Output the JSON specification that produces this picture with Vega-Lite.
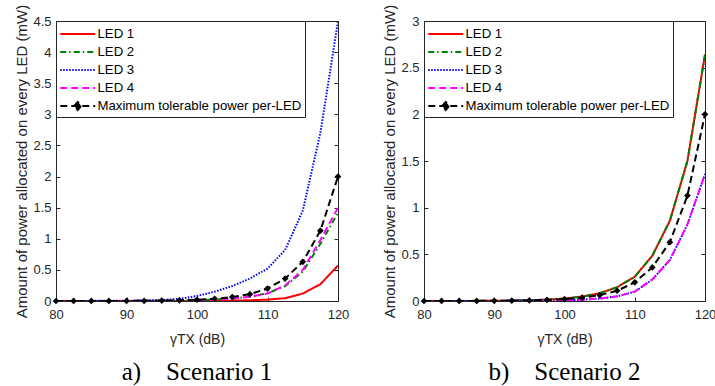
{
"$schema": "https://vega.github.io/schema/vega-lite/v6.json",
"background": "white",
"padding": {"left": 14, "top": 3, "right": 8, "bottom": 4},
"config": {
  "view": {"stroke": "#262626", "strokeWidth": 1},
  "scale": {"continuousPadding": 0},
  "axis": {"labelFont": "Liberation Sans", "labelFontSize": 13, "labelColor": "#262626", "titleFont": "Liberation Sans", "titleFontSize": 14, "titleFontWeight": "normal", "titleColor": "#262626", "domainColor": "#262626", "tickColor": "#262626", "grid": false, "tickSize": -4, "labelPadding": 9, "labelFlush": false, "labelOverlap": false, "domainWidth": 1, "tickWidth": 1},
  "legend": {"orient": "top-left", "offset": 0, "symbolType": "M-1,0H3", "symbolSize": 306, "symbolStrokeWidth": 2, "labelOffset": 18.5, "padding": 3, "rowPadding": 1.0, "strokeColor": "#262626", "fillColor": "white", "labelFont": "Liberation Sans", "labelFontSize": 13.2, "labelColor": "black", "labelLimit": 400, "cornerRadius": 0},
  "title": {"font": "Liberation Serif", "fontSize": 25, "fontWeight": "normal", "color": "black"}
},
"datasets": {
"s1": [
{"x":80,"led":"LED 1","p":0},{"x":80,"led":"LED 2","p":0.0001},{"x":80,"led":"LED 3","p":0.001},{"x":80,"led":"LED 4","p":0.0001},{"x":80,"led":"Maximum tolerable power per-LED","p":0.0002},
{"x":82.5,"led":"LED 1","p":0},{"x":82.5,"led":"LED 2","p":0.0002},{"x":82.5,"led":"LED 3","p":0.0015},{"x":82.5,"led":"LED 4","p":0.0002},{"x":82.5,"led":"Maximum tolerable power per-LED","p":0.00036},
{"x":85,"led":"LED 1","p":0},{"x":85,"led":"LED 2","p":0.0004},{"x":85,"led":"LED 3","p":0.002},{"x":85,"led":"LED 4","p":0.0004},{"x":85,"led":"Maximum tolerable power per-LED","p":0.00063},
{"x":87.5,"led":"LED 1","p":0},{"x":87.5,"led":"LED 2","p":0.0008},{"x":87.5,"led":"LED 3","p":0.003},{"x":87.5,"led":"LED 4","p":0.0008},{"x":87.5,"led":"Maximum tolerable power per-LED","p":0.0011},
{"x":90,"led":"LED 1","p":0},{"x":90,"led":"LED 2","p":0.0014},{"x":90,"led":"LED 3","p":0.004},{"x":90,"led":"LED 4","p":0.0013},{"x":90,"led":"Maximum tolerable power per-LED","p":0.002},
{"x":92.5,"led":"LED 1","p":0.0005},{"x":92.5,"led":"LED 2","p":0.0025},{"x":92.5,"led":"LED 3","p":0.007},{"x":92.5,"led":"LED 4","p":0.0024},{"x":92.5,"led":"Maximum tolerable power per-LED","p":0.0036},
{"x":95,"led":"LED 1","p":0.001},{"x":95,"led":"LED 2","p":0.0045},{"x":95,"led":"LED 3","p":0.015},{"x":95,"led":"LED 4","p":0.0042},{"x":95,"led":"Maximum tolerable power per-LED","p":0.0063},
{"x":97.5,"led":"LED 1","p":0.0015},{"x":97.5,"led":"LED 2","p":0.008},{"x":97.5,"led":"LED 3","p":0.035},{"x":97.5,"led":"LED 4","p":0.0075},{"x":97.5,"led":"Maximum tolerable power per-LED","p":0.011},
{"x":100,"led":"LED 1","p":0.002},{"x":100,"led":"LED 2","p":0.014},{"x":100,"led":"LED 3","p":0.08},{"x":100,"led":"LED 4","p":0.013},{"x":100,"led":"Maximum tolerable power per-LED","p":0.02},
{"x":102.5,"led":"LED 1","p":0.003},{"x":102.5,"led":"LED 2","p":0.024},{"x":102.5,"led":"LED 3","p":0.15},{"x":102.5,"led":"LED 4","p":0.023},{"x":102.5,"led":"Maximum tolerable power per-LED","p":0.036},
{"x":105,"led":"LED 1","p":0.006},{"x":105,"led":"LED 2","p":0.04},{"x":105,"led":"LED 3","p":0.24},{"x":105,"led":"LED 4","p":0.04},{"x":105,"led":"Maximum tolerable power per-LED","p":0.063},
{"x":107.5,"led":"LED 1","p":0.012},{"x":107.5,"led":"LED 2","p":0.07},{"x":107.5,"led":"LED 3","p":0.36},{"x":107.5,"led":"LED 4","p":0.068},{"x":107.5,"led":"Maximum tolerable power per-LED","p":0.11},
{"x":110,"led":"LED 1","p":0.022},{"x":110,"led":"LED 2","p":0.125},{"x":110,"led":"LED 3","p":0.52},{"x":110,"led":"LED 4","p":0.12},{"x":110,"led":"Maximum tolerable power per-LED","p":0.2},
{"x":112.5,"led":"LED 1","p":0.045},{"x":112.5,"led":"LED 2","p":0.24},{"x":112.5,"led":"LED 3","p":0.82},{"x":112.5,"led":"LED 4","p":0.25},{"x":112.5,"led":"Maximum tolerable power per-LED","p":0.36},
{"x":115,"led":"LED 1","p":0.12},{"x":115,"led":"LED 2","p":0.47},{"x":115,"led":"LED 3","p":1.45},{"x":115,"led":"LED 4","p":0.5},{"x":115,"led":"Maximum tolerable power per-LED","p":0.63},
{"x":117.5,"led":"LED 1","p":0.27},{"x":117.5,"led":"LED 2","p":0.92},{"x":117.5,"led":"LED 3","p":2.7},{"x":117.5,"led":"LED 4","p":0.98},{"x":117.5,"led":"Maximum tolerable power per-LED","p":1.13},
{"x":120,"led":"LED 1","p":0.57},{"x":120,"led":"LED 2","p":1.42},{"x":120,"led":"LED 3","p":4.5},{"x":120,"led":"LED 4","p":1.5},{"x":120,"led":"Maximum tolerable power per-LED","p":2.0}
],
"s2": [
{"x":80,"led":"LED 1","p":0.00026},{"x":80,"led":"LED 2","p":0.00026},{"x":80,"led":"LED 3","p":0.0001},{"x":80,"led":"LED 4","p":0.0001},{"x":80,"led":"Maximum tolerable power per-LED","p":0.0002},
{"x":82.5,"led":"LED 1","p":0.00047},{"x":82.5,"led":"LED 2","p":0.00047},{"x":82.5,"led":"LED 3","p":0.0002},{"x":82.5,"led":"LED 4","p":0.0002},{"x":82.5,"led":"Maximum tolerable power per-LED","p":0.00036},
{"x":85,"led":"LED 1","p":0.00083},{"x":85,"led":"LED 2","p":0.00083},{"x":85,"led":"LED 3","p":0.0003},{"x":85,"led":"LED 4","p":0.0003},{"x":85,"led":"Maximum tolerable power per-LED","p":0.00063},
{"x":87.5,"led":"LED 1","p":0.0015},{"x":87.5,"led":"LED 2","p":0.0015},{"x":87.5,"led":"LED 3","p":0.0005},{"x":87.5,"led":"LED 4","p":0.0005},{"x":87.5,"led":"Maximum tolerable power per-LED","p":0.0011},
{"x":90,"led":"LED 1","p":0.0026},{"x":90,"led":"LED 2","p":0.0026},{"x":90,"led":"LED 3","p":0.0009},{"x":90,"led":"LED 4","p":0.0009},{"x":90,"led":"Maximum tolerable power per-LED","p":0.002},
{"x":92.5,"led":"LED 1","p":0.0047},{"x":92.5,"led":"LED 2","p":0.0047},{"x":92.5,"led":"LED 3","p":0.0016},{"x":92.5,"led":"LED 4","p":0.0016},{"x":92.5,"led":"Maximum tolerable power per-LED","p":0.0036},
{"x":95,"led":"LED 1","p":0.0083},{"x":95,"led":"LED 2","p":0.0083},{"x":95,"led":"LED 3","p":0.003},{"x":95,"led":"LED 4","p":0.003},{"x":95,"led":"Maximum tolerable power per-LED","p":0.0063},
{"x":97.5,"led":"LED 1","p":0.015},{"x":97.5,"led":"LED 2","p":0.015},{"x":97.5,"led":"LED 3","p":0.005},{"x":97.5,"led":"LED 4","p":0.005},{"x":97.5,"led":"Maximum tolerable power per-LED","p":0.011},
{"x":100,"led":"LED 1","p":0.026},{"x":100,"led":"LED 2","p":0.026},{"x":100,"led":"LED 3","p":0.008},{"x":100,"led":"LED 4","p":0.008},{"x":100,"led":"Maximum tolerable power per-LED","p":0.02},
{"x":102.5,"led":"LED 1","p":0.047},{"x":102.5,"led":"LED 2","p":0.047},{"x":102.5,"led":"LED 3","p":0.014},{"x":102.5,"led":"LED 4","p":0.014},{"x":102.5,"led":"Maximum tolerable power per-LED","p":0.036},
{"x":105,"led":"LED 1","p":0.083},{"x":105,"led":"LED 2","p":0.083},{"x":105,"led":"LED 3","p":0.026},{"x":105,"led":"LED 4","p":0.026},{"x":105,"led":"Maximum tolerable power per-LED","p":0.063},
{"x":107.5,"led":"LED 1","p":0.148},{"x":107.5,"led":"LED 2","p":0.148},{"x":107.5,"led":"LED 3","p":0.05},{"x":107.5,"led":"LED 4","p":0.05},{"x":107.5,"led":"Maximum tolerable power per-LED","p":0.11},
{"x":110,"led":"LED 1","p":0.26},{"x":110,"led":"LED 2","p":0.26},{"x":110,"led":"LED 3","p":0.1},{"x":110,"led":"LED 4","p":0.1},{"x":110,"led":"Maximum tolerable power per-LED","p":0.2},
{"x":112.5,"led":"LED 1","p":0.485},{"x":112.5,"led":"LED 2","p":0.485},{"x":112.5,"led":"LED 3","p":0.23},{"x":112.5,"led":"LED 4","p":0.23},{"x":112.5,"led":"Maximum tolerable power per-LED","p":0.36},
{"x":115,"led":"LED 1","p":0.86},{"x":115,"led":"LED 2","p":0.86},{"x":115,"led":"LED 3","p":0.44},{"x":115,"led":"LED 4","p":0.44},{"x":115,"led":"Maximum tolerable power per-LED","p":0.63},
{"x":117.5,"led":"LED 1","p":1.5},{"x":117.5,"led":"LED 2","p":1.5},{"x":117.5,"led":"LED 3","p":0.82},{"x":117.5,"led":"LED 4","p":0.82},{"x":117.5,"led":"Maximum tolerable power per-LED","p":1.13},
{"x":120,"led":"LED 1","p":2.64},{"x":120,"led":"LED 2","p":2.64},{"x":120,"led":"LED 3","p":1.36},{"x":120,"led":"LED 4","p":1.36},{"x":120,"led":"Maximum tolerable power per-LED","p":2.0}
]
},
"hconcat": [
{
  "width": 282, "height": 280,
  "data": {"name": "s1"},
  "title": {"text": "a)\u00a0\u00a0\u00a0\u00a0Scenario 1", "orient": "bottom", "anchor": "middle", "offset": 14},
  "layer": [
    {"mark": {"type": "line", "strokeWidth": 2, "clip": true},
     "encoding": {
       "x": {"field": "x", "type": "quantitative", "scale": {"domain": [80, 120], "nice": false, "zero": false, "padding": 0}, "axis": {"values": [80, 90, 100, 110, 120], "format": "d", "title": "γTX (dB)", "titlePadding": 11, "labelPadding": 11}},
       "y": {"field": "p", "type": "quantitative", "scale": {"domain": [0, 4.5], "nice": false, "padding": 0}, "axis": {"values": [0, 0.5, 1, 1.5, 2, 2.5, 3, 3.5, 4, 4.5], "format": "~g", "title": "Amount of power allocated on every LED (mW)", "titlePadding": 3, "titleFontSize": 15}},
       "color": {"field": "led", "type": "nominal", "scale": {"domain": ["LED 1", "LED 2", "LED 3", "LED 4", "Maximum tolerable power per-LED"], "range": ["#FF0000", "#008000", "#0000FF", "#FF00FF", "#000000"]},
         "legend": {"title": null, "encode": {"symbols": {"update": {"shape": {"signal": "datum.value === 'Maximum tolerable power per-LED' ? 'M-1,0H3M0.6,0L1,-0.45L1.4,0L1,0.45Z' : 'M-1,0H3'"}, "fill": {"signal": "datum.value === 'Maximum tolerable power per-LED' ? 'black' : 'transparent'"}}}}}},
       "strokeDash": {"field": "led", "type": "nominal", "scale": {"domain": ["LED 1", "LED 2", "LED 3", "LED 4", "Maximum tolerable power per-LED"], "range": [[1, 0], [6, 3, 1.5, 3], [1.5, 1.5], [7, 4], [7, 4]]}, "legend": {"title": null}}
     }},
    {"transform": [{"filter": "datum.led === 'Maximum tolerable power per-LED'"}],
     "mark": {"type": "point", "shape": "diamond", "filled": true, "size": 45, "color": "black", "opacity": 1},
     "encoding": {"x": {"field": "x", "type": "quantitative", "scale": {"domain": [80, 120], "nice": false, "zero": false, "padding": 0}, "axis": null}, "y": {"field": "p", "type": "quantitative", "scale": {"domain": [0, 4.5], "nice": false, "padding": 0}, "axis": null}}},
    {"mark": {"type": "point", "opacity": 0},
     "encoding": {"x": {"field": "x", "type": "quantitative", "scale": {"domain": [80, 120], "nice": false, "zero": false, "padding": 0}, "axis": {"orient": "top", "values": [80, 90, 100, 110, 120], "labels": false, "title": null}}, "y": {"field": "p", "type": "quantitative", "scale": {"domain": [0, 4.5], "nice": false, "padding": 0}, "axis": {"orient": "right", "values": [0, 0.5, 1, 1.5, 2, 2.5, 3, 3.5, 4, 4.5], "labels": false, "title": null}}}}
  ],
  "resolve": {"axis": {"x": "independent", "y": "independent"}}
},
{
  "width": 281, "height": 280,
  "data": {"name": "s2"},
  "title": {"text": "b)\u00a0\u00a0\u00a0\u00a0Scenario 2", "orient": "bottom", "anchor": "middle", "offset": 14},
  "layer": [
    {"mark": {"type": "line", "strokeWidth": 2, "clip": true},
     "encoding": {
       "x": {"field": "x", "type": "quantitative", "scale": {"domain": [80, 120], "nice": false, "zero": false, "padding": 0}, "axis": {"values": [80, 90, 100, 110, 120], "format": "d", "title": "γTX (dB)", "titlePadding": 11, "labelPadding": 11}},
       "y": {"field": "p", "type": "quantitative", "scale": {"domain": [0, 3], "nice": false, "padding": 0}, "axis": {"values": [0, 0.5, 1, 1.5, 2, 2.5, 3], "format": "~g", "title": "Amount of power allocated on every LED (mW)", "titlePadding": 3, "titleFontSize": 15}},
       "color": {"field": "led", "type": "nominal", "scale": {"domain": ["LED 1", "LED 2", "LED 3", "LED 4", "Maximum tolerable power per-LED"], "range": ["#FF0000", "#008000", "#0000FF", "#FF00FF", "#000000"]},
         "legend": {"title": null, "encode": {"symbols": {"update": {"shape": {"signal": "datum.value === 'Maximum tolerable power per-LED' ? 'M-1,0H3M0.6,0L1,-0.45L1.4,0L1,0.45Z' : 'M-1,0H3'"}, "fill": {"signal": "datum.value === 'Maximum tolerable power per-LED' ? 'black' : 'transparent'"}}}}}},
       "strokeDash": {"field": "led", "type": "nominal", "scale": {"domain": ["LED 1", "LED 2", "LED 3", "LED 4", "Maximum tolerable power per-LED"], "range": [[1, 0], [6, 3, 1.5, 3], [1.5, 1.5], [7, 4], [7, 4]]}, "legend": {"title": null}}
     }},
    {"transform": [{"filter": "datum.led === 'Maximum tolerable power per-LED'"}],
     "mark": {"type": "point", "shape": "diamond", "filled": true, "size": 45, "color": "black", "opacity": 1},
     "encoding": {"x": {"field": "x", "type": "quantitative", "scale": {"domain": [80, 120], "nice": false, "zero": false, "padding": 0}, "axis": null}, "y": {"field": "p", "type": "quantitative", "scale": {"domain": [0, 3], "nice": false, "padding": 0}, "axis": null}}},
    {"mark": {"type": "point", "opacity": 0},
     "encoding": {"x": {"field": "x", "type": "quantitative", "scale": {"domain": [80, 120], "nice": false, "zero": false, "padding": 0}, "axis": {"orient": "top", "values": [80, 90, 100, 110, 120], "labels": false, "title": null}}, "y": {"field": "p", "type": "quantitative", "scale": {"domain": [0, 3], "nice": false, "padding": 0}, "axis": {"orient": "right", "values": [0, 0.5, 1, 1.5, 2, 2.5, 3], "labels": false, "title": null}}}}
  ],
  "resolve": {"axis": {"x": "independent", "y": "independent"}}
}
],
"spacing": 86,
"bounds": "flush",
"resolve": {"scale": {"x": "independent", "y": "independent", "color": "independent", "strokeDash": "independent"}, "legend": {"color": "independent", "strokeDash": "independent"}}
}
